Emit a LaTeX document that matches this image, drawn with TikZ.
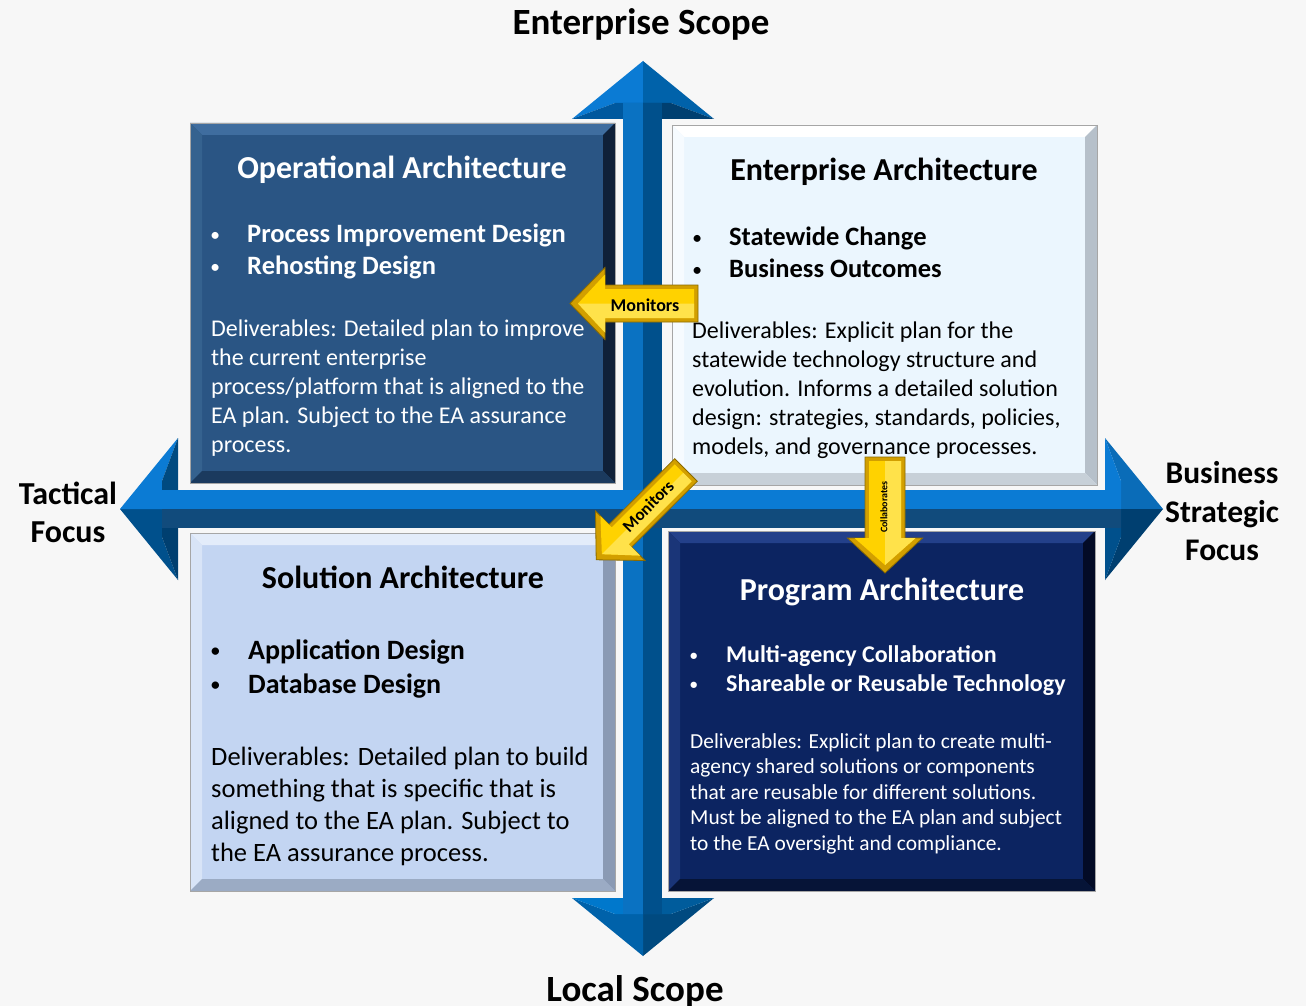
\documentclass[tikz,border=0pt]{standalone}
\usepackage{fontspec}
\usepackage{graphicx}
\setmainfont{Carlito}
\usetikzlibrary{calc}

\definecolor{bg}{HTML}{F7F7F7}
\definecolor{opblue}{HTML}{2A5584}
\definecolor{entblue}{HTML}{EBF6FE}
\definecolor{solblue}{HTML}{C3D5F2}
\definecolor{progblue}{HTML}{0C2461}
\definecolor{axA}{HTML}{0B7BD4}
\definecolor{axB}{HTML}{0062AA}
\definecolor{axC}{HTML}{00589E}
\definecolor{axD}{HTML}{003F70}
\definecolor{axE}{HTML}{004A80}
\definecolor{axF}{HTML}{0A6CB8}
\definecolor{axG}{HTML}{00508C}
\definecolor{axH}{HTML}{0078CC}
\definecolor{axI}{HTML}{005C9C}
\definecolor{shaftL}{HTML}{0A72C2}
\definecolor{shaftB}{HTML}{114B7C}
\definecolor{goldface}{HTML}{FFD200}
\definecolor{goldhi}{HTML}{FFE24A}
\definecolor{goldedge}{HTML}{D29F00}
\definecolor{goldline}{HTML}{8A6A00}

\newcommand{\fsz}[2]{\fontsize{#1}{#2}\selectfont}
\newcommand{\bul}[1]{\makebox[#1][l]{\hspace{1pt}\raisebox{0.08em}{\scalebox{0.62}{\textbullet}}}}

% bevelled edges round a box node: top, left, right, bottom colours
\newcommand{\bevel}[5]{%
  \fill[#2] (#1.north west) -- (#1.north east) -- ($(#1.north east)+(-12,12)$) -- ($(#1.north west)+(12,12)$) -- cycle;
  \fill[#3] (#1.north west) -- ($(#1.north west)+(12,12)$) -- ($(#1.south west)+(12,-12)$) -- (#1.south west) -- cycle;
  \fill[#4] (#1.north east) -- (#1.south east) -- ($(#1.south east)+(-12,-12)$) -- ($(#1.north east)+(-12,12)$) -- cycle;
  \fill[#5] (#1.south west) -- ($(#1.south west)+(12,-12)$) -- ($(#1.south east)+(-12,-12)$) -- (#1.south east) -- cycle;
  \draw[black!35] (#1.north west) rectangle (#1.south east);
}

% faceted head of an axis arrow, base centre at (#1,#2)
\newcommand{\axishead}[7]{%
  \begin{scope}[shift={(#1,#2)}, rotate=#3]
    \fill[#4] (0,-58) -- (-71,0) -- (-28,-16) -- (0,-16) -- cycle;
    \fill[#5] (0,-58) -- (71,0) -- (28,-16) -- (0,-16) -- cycle;
    \fill[#6] (-71,0) -- (-28,-16) -- (0,-16) -- (0,0) -- cycle;
    \fill[#7] (71,0) -- (28,-16) -- (0,-16) -- (0,0) -- cycle;
  \end{scope}}

% gold block arrow along +x: length, body half width, head half width, head length
\newcommand{\goldarrow}[4]{%
  \fill[goldedge, draw=goldline, line width=0.8] (0,-#2) -- ({#1-#4},-#2) -- ({#1-#4},-#3) -- (#1,0) -- ({#1-#4},#3) -- ({#1-#4},#2) -- (0,#2) -- cycle;
  \fill[goldface] (4,{4-#2}) -- ({#1-#4},{4-#2}) -- ({#1-#4},{7-#3}) -- ({#1-8},0) -- ({#1-#4},{#3-7}) -- ({#1-#4},{#2-4}) -- (4,{#2-4}) -- cycle;
  \fill[goldhi] (4,{4-#2}) -- ({#1-#4},{4-#2}) -- ({#1-#4},{7-#3}) -- ({#1-8},0) -- ({#1-#4-4},0) -- (4,0) -- cycle;
}

\definecolor{opTop}{HTML}{3F6D9F}
\definecolor{opLeft}{HTML}{35628F}
\definecolor{opRight}{HTML}{0F2038}
\definecolor{opBottom}{HTML}{1B3A5E}
\definecolor{entTop}{HTML}{FFFFFF}
\definecolor{entLeft}{HTML}{F6FBFF}
\definecolor{entRight}{HTML}{B6C0CA}
\definecolor{entBottom}{HTML}{C7D0D8}
\definecolor{solTop}{HTML}{E3ECFA}
\definecolor{solLeft}{HTML}{D8E4F7}
\definecolor{solRight}{HTML}{8A9AB4}
\definecolor{solBottom}{HTML}{9BABC4}
\definecolor{progTop}{HTML}{23408A}
\definecolor{progLeft}{HTML}{1A3578}
\definecolor{progRight}{HTML}{030B26}
\definecolor{progBottom}{HTML}{061437}

\begin{document}
\begin{tikzpicture}[x=1pt, y=-1pt,
  quad/.style={rectangle, inner sep=0, outer sep=0, minimum width=425, minimum height=360},
  heading/.style={font=\fsz{37}{44}\bfseries, anchor=base, inner sep=0},
  focus/.style={align=center, anchor=north, inner sep=0},
  boxtitle/.style={font=\fsz{32}{38}\bfseries, anchor=base, inner sep=0},
  bullets/.style={align=left, anchor=north west, inner sep=0},
  deliv/.style={align=left, anchor=north west, inner sep=0},
  tag/.style={font=\fsz{18}{20}\bfseries, inner sep=0}]
\useasboundingbox (0,0) rectangle (1306,1006);
\fill[bg] (0,0) rectangle (1306,1006);

% the two scope axes
\axishead{643}{119}{0}{axA}{axB}{axC}{axD}
\axishead{643}{898}{180}{axE}{axB}{axI}{axH}
\axishead{178}{509}{90}{axG}{axA}{axD}{axE}
\axishead{1105}{509}{-90}{axF}{axD}{axA}{axG}
\fill[shaftL] (623,103) rectangle (643,914);
\fill[axG] (643,103) rectangle (662,914);
\fill[axA] (162,490) rectangle (1121,509);
\fill[shaftB] (162,509) rectangle (1121,528);

\node[heading] (topLabel) at (641,35) {Enterprise Scope};
\node[heading] (bottomLabel) at (635,1001) {Local Scope};
\node[focus, font=\fsz{32}{38}\bfseries] (leftLabel) at (68,472) {\rule{0pt}{1em}Tactical\\Focus};
\node[focus, font=\fsz{31.5}{38.5}\bfseries] (rightLabel) at (1222,452) {\rule{0pt}{1em}Business\\Strategic\\Focus};

% quadrants
\node[quad, fill=opblue] (opBox) at (402.5,303) {};
\node[quad, fill=entblue] (entBox) at (884.5,305) {};
\node[quad, fill=solblue, minimum height=358] (solBox) at (402.5,712) {};
\node[quad, fill=progblue, minimum width=427] (progBox) at (881.5,711) {};
\bevel{opBox}{opTop}{opLeft}{opRight}{opBottom}
\bevel{entBox}{entTop}{entLeft}{entRight}{entBottom}
\bevel{solBox}{solTop}{solLeft}{solRight}{solBottom}
\bevel{progBox}{progTop}{progLeft}{progRight}{progBottom}

\node[boxtitle, text=white] (opTitle) at (402,178) {Operational Architecture};
\node[bullets, text=white, font=\fsz{26.5}{32}\bfseries] (opList) at (210,215.5)
  {\rule{0pt}{1em}\bul{37pt}Process Improvement Design\\\bul{37pt}Rehosting Design};
\node[deliv, text=white, font=\fsz{24}{29}] (opText) at (211,312)
  {\rule{0pt}{1em}Deliverables: Detailed plan to improve\\the current enterprise\\process/platform that is aligned to the\\EA plan. Subject to the EA assurance\\process.};

\node[boxtitle] (entTitle) at (884,180) {Enterprise Architecture};
\node[bullets, font=\fsz{26.5}{32}\bfseries] (entList) at (692,218.5)
  {\rule{0pt}{1em}\bul{37pt}Statewide Change\\\bul{37pt}Business Outcomes};
\node[deliv, font=\fsz{24}{29}] (entText) at (692,314)
  {\rule{0pt}{1em}Deliverables: Explicit plan for the\\statewide technology structure and\\evolution. Informs a detailed solution\\design: strategies, standards, policies,\\models, and governance processes.};

\node[boxtitle] (solTitle) at (403,588) {Solution Architecture};
\node[bullets, font=\fsz{28}{34}\bfseries] (solList) at (210,631)
  {\rule{0pt}{1em}\bul{38pt}Application Design\\\bul{38pt}Database Design};
\node[deliv, font=\fsz{26.5}{32}] (solText) at (211,738.5)
  {\rule{0pt}{1em}Deliverables: Detailed plan to build\\something that is specific that is\\aligned to the EA plan. Subject to\\the EA assurance process.};

\node[boxtitle, text=white] (progTitle) at (882,600) {Program Architecture};
\node[bullets, text=white, font=\fsz{24}{29}\bfseries] (progList) at (689,638)
  {\rule{0pt}{1em}\bul{37pt}Multi-agency Collaboration\\\bul{37pt}Shareable or Reusable Technology};
\node[deliv, text=white, font=\fsz{21.4}{25.5}] (progText) at (690,726.6)
  {\rule{0pt}{1em}Deliverables: Explicit plan to create multi-\\agency shared solutions or components\\that are reusable for different solutions.\\Must be aligned to the EA plan and subject\\to the EA oversight and compliance.};

% gold arrows between the quadrants
\begin{scope}[shift={(698,303.5)}, rotate=180]
  \goldarrow{128}{18.5}{36}{35}
\end{scope}
\node[tag] (monitorsOp) at (645,305) {Monitors};
\begin{scope}[shift={(686,470)}, rotate=225]
  \goldarrow{127}{16}{35}{34}
\end{scope}
\node[tag, font=\fsz{17}{19}\bfseries, rotate=45] (monitorsSol) at (648,506) {Monitors};
\begin{scope}[shift={(885,457)}, rotate=-90]
  \goldarrow{116}{20}{37.5}{35}
\end{scope}
\node[tag, font=\fsz{10}{12}\bfseries, rotate=90] (collab) at (884,507) {Collaborates};
\end{tikzpicture}
\end{document}
